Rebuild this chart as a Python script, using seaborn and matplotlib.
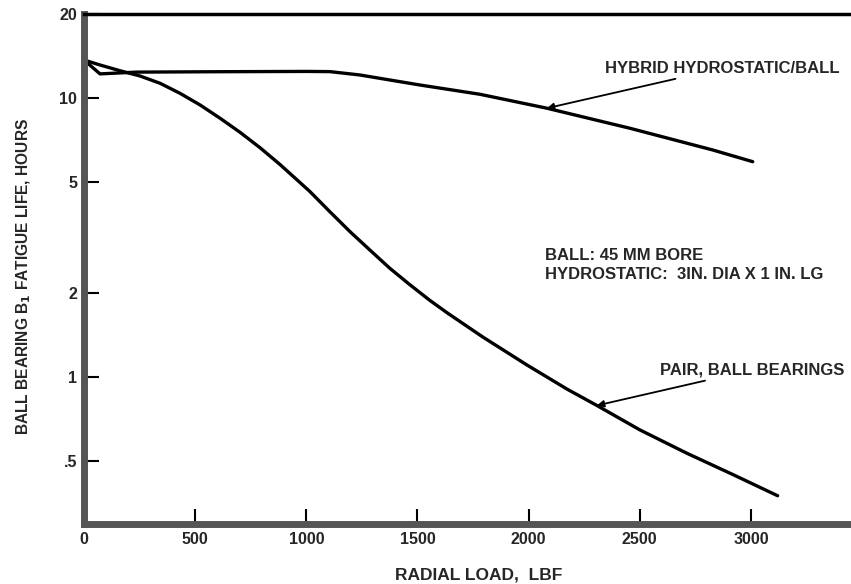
import numpy as np
import pandas as pd
import matplotlib
matplotlib.use("Agg")
import matplotlib.pyplot as plt
import seaborn as sns

# Data
pair_load = [0, 72, 162, 252, 342, 432, 522, 612, 701, 791, 881, 971, 1016, 1106, 1196, 1286,
             1376, 1466, 1556, 1637, 1794, 1992, 2172, 2307, 2500, 2711, 2918, 3120]
pair_life = [13.68, 13.13, 12.52, 11.99, 11.29, 10.39, 9.44, 8.46, 7.54, 6.64, 5.78, 4.98, 4.62, 3.91,
             3.32, 2.85, 2.45, 2.14, 1.88, 1.69, 1.39, 1.104, 0.905, 0.79, 0.646, 0.533, 0.447, 0.375]

hybrid_load = [0, 72, 238, 600, 1000, 1106, 1241, 1331, 1511, 1781, 2082, 2455, 2828, 3008]
hybrid_life = [13.68, 12.2, 12.38, 12.42, 12.45, 12.43, 12.09, 11.76, 11.13, 10.31, 9.19, 7.79, 6.51, 5.91]

x_ticks = [0, 500, 1000, 1500, 2000, 2500, 3000]
y_ticks = [0.5, 1, 2, 5, 10, 20]
y_tick_labels = [".5", "1", "2", "5", "10", "20"]

df = pd.concat([
    pd.DataFrame({"load": pair_load, "life": pair_life, "series": "PAIR, BALL BEARINGS"}),
    pd.DataFrame({"load": hybrid_load, "life": hybrid_life, "series": "HYBRID HYDROSTATIC/BALL"}),
], ignore_index=True)

sns.set_style("white")
plt.rcParams["font.family"] = ["Liberation Sans", "DejaVu Sans"]

fig = plt.figure(figsize=(8.51, 5.84), dpi=100)
ax = fig.add_axes([84 / 851, 1 - 524 / 584, 1 - 84 / 851, (524 - 14) / 584])

sns.lineplot(data=df, x="load", y="life", hue="series", units="series", estimator=None,
             palette=["black", "black"], linewidth=2.4, legend=False, ax=ax, sort=False)

ax.set_yscale("log")
ax.set_xlim(0, 3450)
ax.set_ylim(0.297, 20)

ax.set_xticks(x_ticks)
ax.set_xticklabels([str(t) for t in x_ticks], fontsize=11.5, fontweight="bold")
ax.set_yticks(y_ticks)
ax.set_yticklabels(y_tick_labels, fontsize=11.5, fontweight="bold")
ax.yaxis.set_minor_locator(matplotlib.ticker.NullLocator())
ax.tick_params(axis="both", which="major", direction="in", length=11, width=1.5, color="black",
               bottom=True, left=True, top=False, right=False)
ax.tick_params(axis="y", pad=5)
ax.tick_params(axis="x", pad=6)

for s in ["left", "bottom"]:
    ax.spines[s].set_color("#555555")
    ax.spines[s].set_linewidth(5)
ax.spines["top"].set_color("black")
ax.spines["top"].set_linewidth(2.5)
ax.spines["right"].set_visible(False)

ax.set_xlabel("RADIAL LOAD,  LBF", fontsize=12.5, fontweight="bold")
ax.xaxis.set_label_coords(0.515, -0.086)
ax.set_ylabel("BALL BEARING B$_\\mathbf{1}$ FATIGUE LIFE, HOURS", fontsize=11.2, fontweight="bold")
ax.yaxis.set_label_coords(-0.067, 0.486)

ax.annotate("HYBRID HYDROSTATIC/BALL", xy=(2082, 9.19), xytext=(2345, 12.8),
            fontsize=12, fontweight="bold", va="center", ha="left",
            arrowprops=dict(arrowstyle="-|>", color="black", lw=1.3, shrinkA=0, shrinkB=0,
                            mutation_scale=10))
ax.annotate("PAIR, BALL BEARINGS", xy=(2307, 0.79), xytext=(2590, 1.06),
            fontsize=12, fontweight="bold", va="center", ha="left",
            arrowprops=dict(arrowstyle="-|>", color="black", lw=1.3, shrinkA=0, shrinkB=0,
                            mutation_scale=10))
ax.text(2073, 2.52, "BALL: 45 MM BORE\nHYDROSTATIC:  3IN. DIA X 1 IN. LG",
        fontsize=12, fontweight="bold", va="center", ha="left", linespacing=1.3)

fig.savefig("out.png", dpi=100)
